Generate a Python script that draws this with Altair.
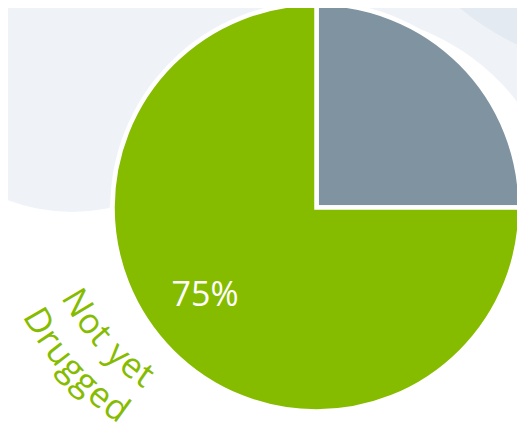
import math
import altair as alt
import pandas as pd

# ---- data ----
categories = ["Drugged", "Not yet Drugged"]
values = [25, 75]
colors = ["#8093A0", "#86BC00"]
label_lines = ["Not yet", "Drugged"]

# ---- layout constants (page has an 8px margin) ----
OFF = 8
W, H = 509, 425
GREEN = colors[1]
LIGHT = "#EFF3F8"
DARK = "#E4EAF2"

total = sum(values)
pie_df = pd.DataFrame({
    "category": categories,
    "value": values,
    "order": list(range(len(categories))),
    "pct": ["" if c == "Drugged" else f"{v / total * 100:.0f}%" for c, v in zip(categories, values)],
})

PCX, PCY, PR = 316.5 - OFF, 207.5 - OFF, 204


def disc(cx, cy, r, color):
    return alt.Chart(alt.Data(values=[{"k": 1}])).mark_arc(
        radius=r, theta=0, theta2=2 * math.pi, color=color, strokeWidth=0
    ).encode(x=alt.value(cx - OFF), y=alt.value(cy - OFF))


bg_a = disc(72, 33, 179, LIGHT)
bg_b = disc(380, -300, 445, LIGHT)
bg_c = disc(620, -180, 247, DARK)
halo = disc(336, 242, 229, "white")

pie = alt.Chart(pie_df).mark_arc(radius=PR, stroke="white", strokeWidth=4.5).encode(
    theta=alt.Theta("value:Q", stack=True),
    color=alt.Color("category:N", scale=alt.Scale(domain=categories, range=colors), legend=None),
    order=alt.Order("order:Q"),
    x=alt.value(PCX),
    y=alt.value(PCY),
)

pct = alt.Chart(pie_df).mark_text(
    radius=142, font="Open Sans", fontSize=34, color="white",
    dx=-11, dy=-12, align="center", baseline="middle",
).encode(
    theta=alt.Theta("value:Q", stack=True),
    order=alt.Order("order:Q"),
    text="pct:N",
    x=alt.value(PCX),
    y=alt.value(PCY),
)

# ---- curved category label, laid out letter by letter along an arc ----
FS = 35
CHAR_W = {"N": 0.76, "o": 0.60, "t": 0.35, " ": 0.30, "y": 0.50, "e": 0.56,
          "D": 0.73, "r": 0.41, "u": 0.62, "g": 0.55, "d": 0.62}
ACX, ACY = 279 - OFF, 183 - OFF
line_layout = [(235, 152.5), (278, 152.7)]  # (radius, start angle in degrees)
rows = []
for text, (r, phi0) in zip(label_lines, line_layout):
    s = 0.0
    for ch in text:
        w = CHAR_W.get(ch, 0.55) * FS
        mid = s + w / 2
        s += w
        if ch == " ":
            continue
        phi = math.radians(phi0) - mid / r
        rows.append({
            "ch": ch,
            "px": ACX + r * math.cos(phi),
            "py": ACY + r * math.sin(phi),
            "ang": math.degrees(phi) - 90,
        })
lab_df = pd.DataFrame(rows)

lab = alt.Chart(lab_df).mark_text(
    font="Open Sans", fontSize=FS, color=GREEN, align="center", baseline="middle"
).encode(
    x=alt.X("px:Q", scale=None, axis=None),
    y=alt.Y("py:Q", scale=None, axis=None),
    angle=alt.Angle("ang:Q", scale=None),
    text="ch:N",
)

chart = alt.layer(bg_a, bg_b, bg_c, halo, pie, pct, lab).properties(
    width=W, height=H, background="white", padding=0,
    autosize=alt.AutoSizeParams(type="none"),
).configure_view(strokeWidth=0)

chart.save("out.html", embed_options={"renderer": "svg", "actions": False})
